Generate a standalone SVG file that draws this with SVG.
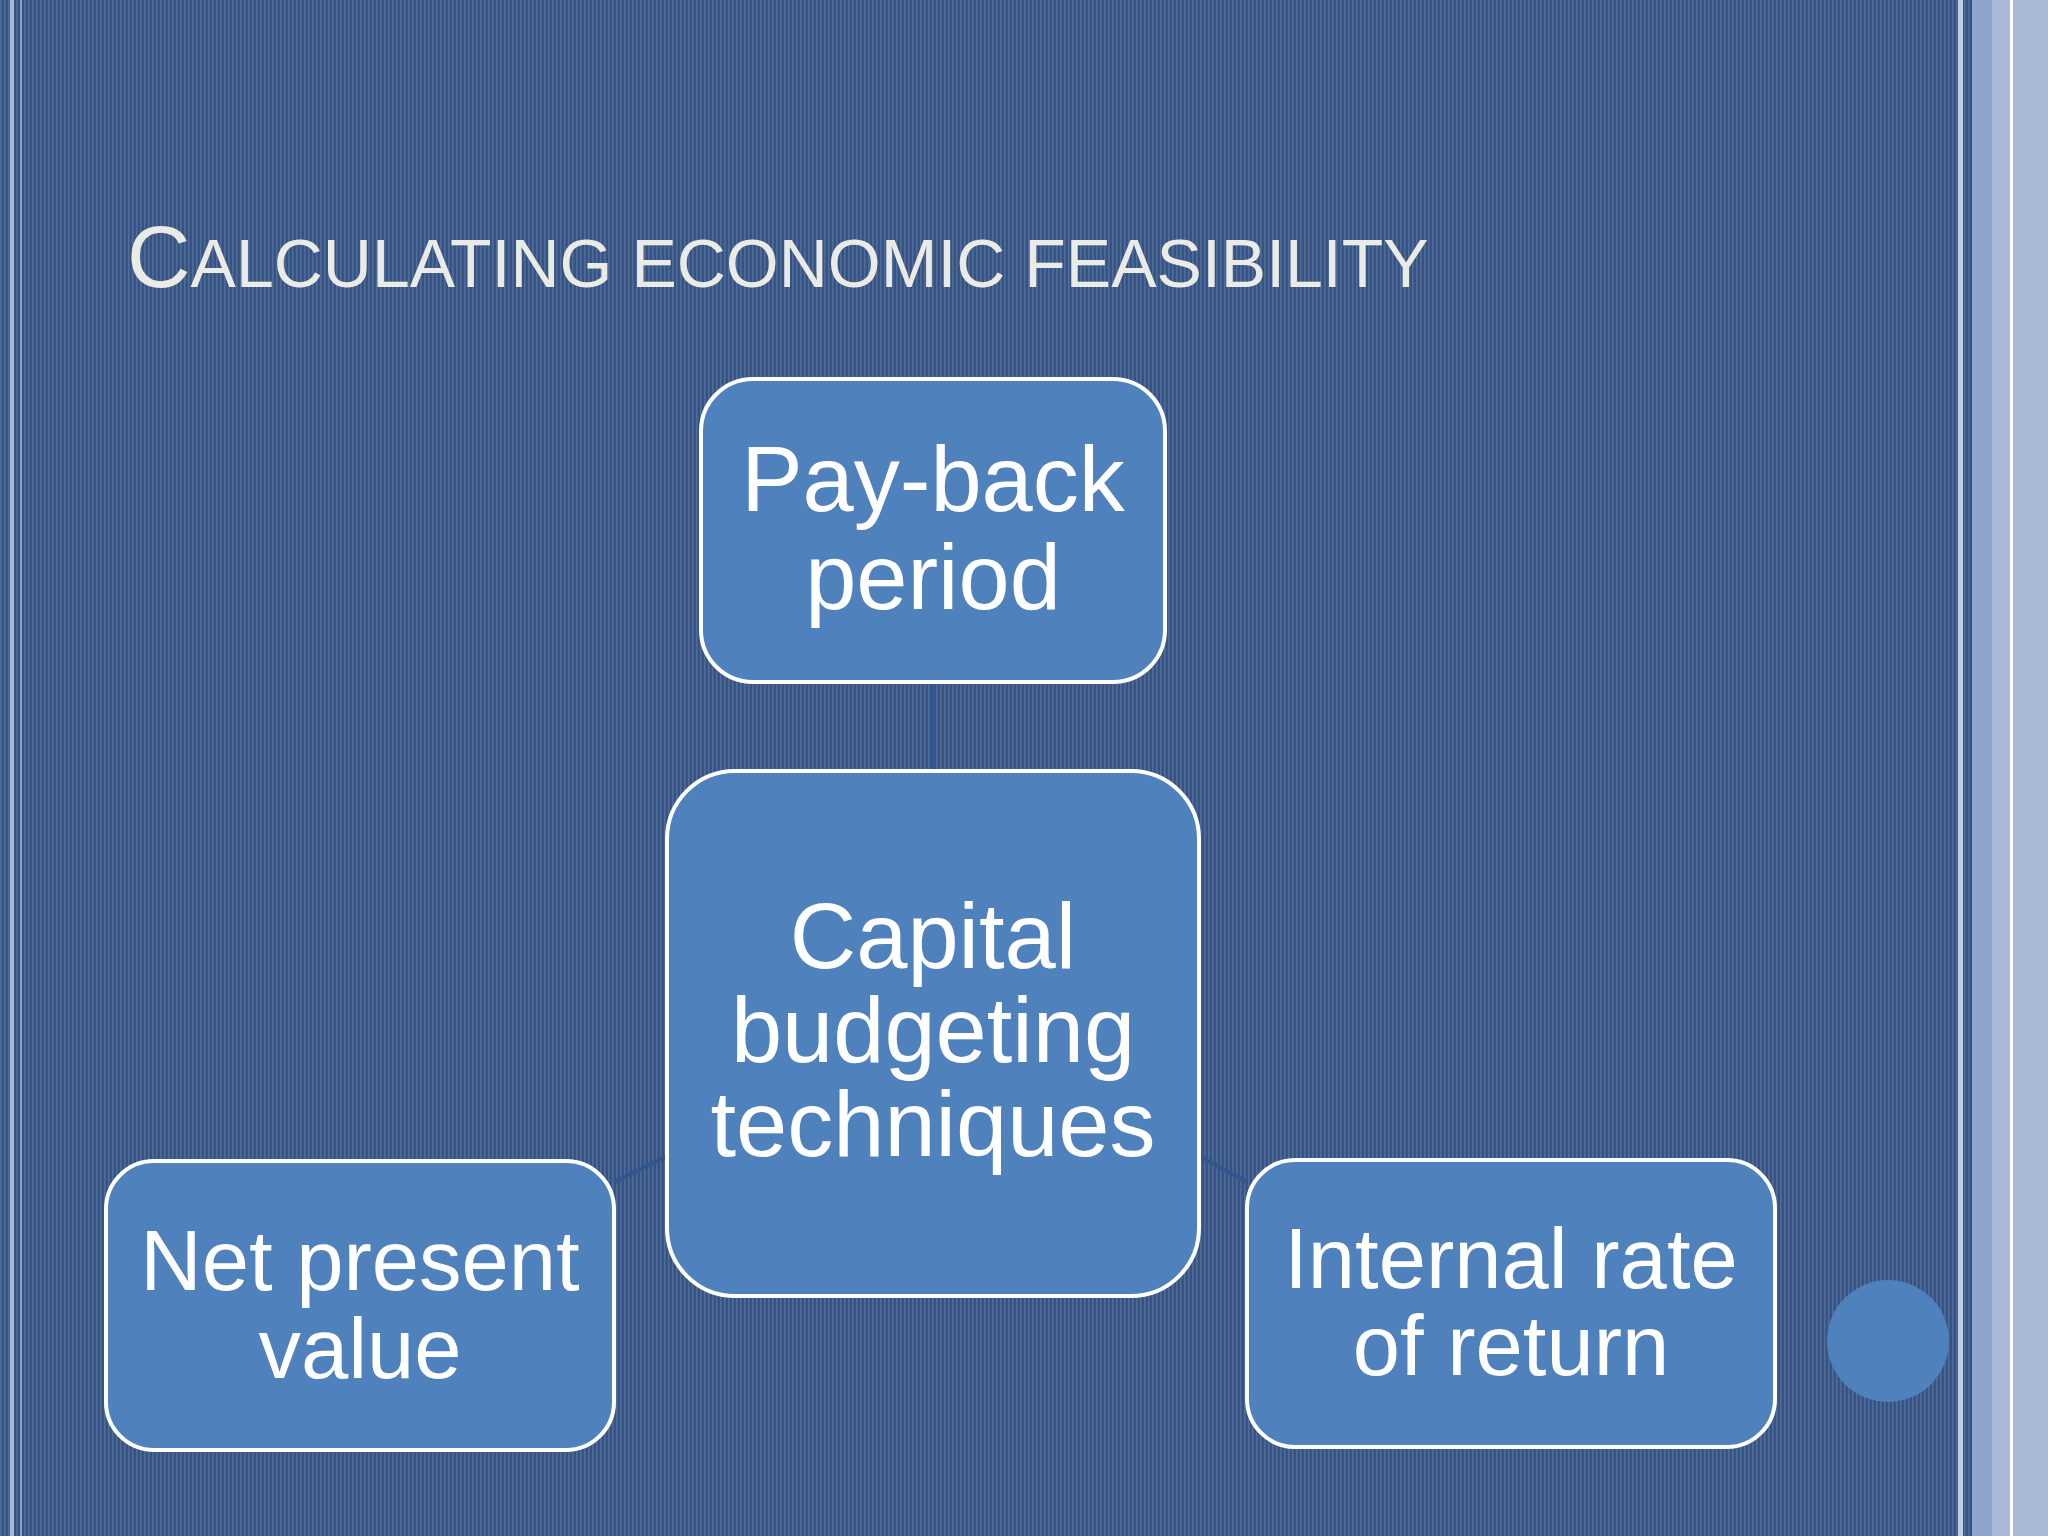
<svg xmlns="http://www.w3.org/2000/svg" width="2048" height="1536" viewBox="0 0 2048 1536">
<defs>
<pattern id="st" width="4" height="4" patternUnits="userSpaceOnUse">
<rect width="4" height="4" fill="#37537f"/>
<rect width="1.5" height="4" fill="#506c9c"/>
</pattern>
<style>
.box{fill:#4f81bd;stroke:#fff;stroke-width:4}
.t{font-family:"Liberation Sans",Arial,sans-serif;font-size:92px;fill:#fff;text-anchor:middle}
.s{font-size:85px}
.c{stroke:#2f5690;stroke-width:4;fill:none}
</style>
</defs>
<rect width="2048" height="1536" fill="url(#st)"/>
<rect x="10" y="0" width="4" height="1536" fill="#a8b8d8"/>
<rect x="20" y="0" width="2" height="1536" fill="#8ca0c8"/>
<rect x="1958" y="0" width="5" height="1536" fill="#c0cce4"/>
<rect x="1972" y="0" width="20" height="1536" fill="#8fa4cc"/>
<rect x="1992" y="0" width="56" height="1536" fill="#a9b8d6"/>
<rect x="2010" y="0" width="3" height="1536" fill="#ffffff"/>
<text x="127" y="287" font-family="Liberation Sans,Arial,sans-serif" fill="#ebebe6" font-size="68"><tspan font-size="88">C</tspan>ALCULATING ECONOMIC FEASIBILITY</text>
<g id="connectors">
<line class="c" x1="934" y1="682" x2="934" y2="771"/>
<line class="c" x1="614" y1="1182" x2="667" y2="1156"/>
<line class="c" x1="1199" y1="1156" x2="1247" y2="1182"/>
</g>
<g id="payback"><rect class="box" x="701" y="379" width="464" height="303" rx="52"/>
<text class="t" x="933" y="511">Pay-back</text><text class="t" x="933" y="609">period</text></g>
<g id="capital"><rect class="box" x="667" y="771" width="532" height="525" rx="68"/>
<text class="t" x="933" y="968">Capital</text><text class="t" x="933" y="1062">budgeting</text><text class="t" x="933" y="1156">techniques</text></g>
<g id="npv"><rect class="box" x="106" y="1161" width="508" height="289" rx="48"/>
<text class="t s" x="360" y="1290">Net present</text><text class="t s" x="360" y="1378">value</text></g>
<g id="irr"><rect class="box" x="1247" y="1160" width="528" height="287" rx="48"/>
<text class="t s" x="1511" y="1288">Internal rate</text><text class="t s" x="1511" y="1375">of return</text></g>
<circle cx="1888" cy="1341" r="61" fill="#4f81bd"/>
</svg>
